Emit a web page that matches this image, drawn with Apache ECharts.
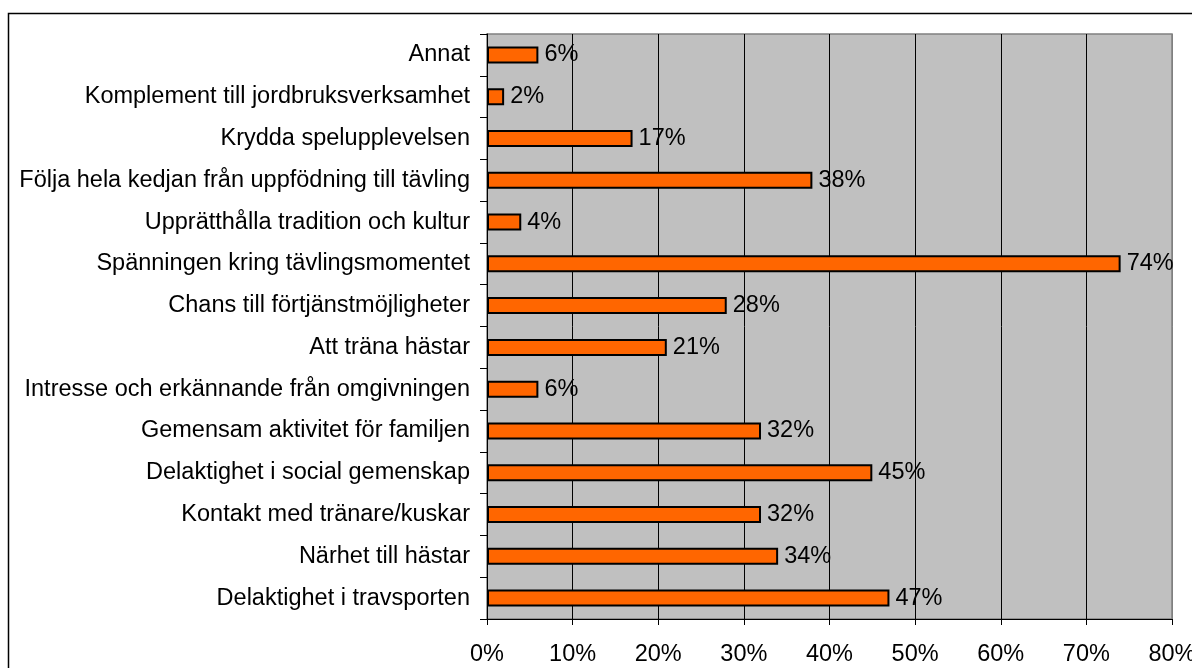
<!DOCTYPE html>
<html>
<head>
<meta charset="utf-8">
<script src="https://cdn.jsdelivr.net/npm/echarts@6/dist/echarts.min.js"></script>
<style>
  html, body { margin: 0; padding: 0; background: #fff; }
  #chart { width: 1192px; height: 668px; }
</style>
</head>
<body>
<div id="chart"></div>
<script>
// Motiv till engagemang i travsporten (andel svarande, %)
const categories = [
  'Annat',
  'Komplement till jordbruksverksamhet',
  'Krydda spelupplevelsen',
  'Följa hela kedjan från uppfödning till tävling',
  'Upprätthålla tradition och kultur',
  'Spänningen kring tävlingsmomentet',
  'Chans till förtjänstmöjligheter',
  'Att träna hästar',
  'Intresse och erkännande från omgivningen',
  'Gemensam aktivitet för familjen',
  'Delaktighet i social gemenskap',
  'Kontakt med tränare/kuskar',
  'Närhet till hästar',
  'Delaktighet i travsporten'
];
const values = [6, 2, 17, 38, 4, 74, 28, 21, 6, 32, 45, 32, 34, 47];
const xTicks = [0, 10, 20, 30, 40, 50, 60, 70, 80];

const font = 'Liberation Sans, Arial, sans-serif';
const fontSize = 23.5;
// black gridlines, the one on the right edge matches the grey plot frame
const gridColors = xTicks.map((t, i) => i === xTicks.length - 1 ? '#808080' : '#000');
const chart = echarts.init(document.getElementById('chart'));

chart.setOption({
  animation: false,
  backgroundColor: '#ffffff',
  graphic: [{
    type: 'rect',
    shape: { x: 8.5, y: 13.5, width: 1300, height: 800 },
    style: { fill: 'none', stroke: '#000', lineWidth: 1.5 },
    z: 100
  }],
  grid: {
    left: 487, right: 20, top: 34, bottom: 49,
    outerBoundsMode: 'none',
    containLabel: false,
    show: true, backgroundColor: '#C0C0C0',
    borderColor: '#808080', borderWidth: 1.5
  },
  xAxis: {
    type: 'value',
    min: xTicks[0], max: xTicks[xTicks.length - 1], interval: 10,
    axisLine: { show: true, lineStyle: { color: '#000', width: 1 } },
    axisTick: { show: true, length: 6, lineStyle: { color: '#000' } },
    axisLabel: {
      color: '#000', fontFamily: font, fontSize: fontSize, margin: 24,
      formatter: v => v + '%'
    },
    splitLine: { show: true, lineStyle: { color: gridColors, width: 1 } }
  },
  yAxis: {
    type: 'category',
    data: categories,
    inverse: true,
    axisLine: { show: true, lineStyle: { color: '#000', width: 1 } },
    axisTick: { show: true, length: 7, lineStyle: { color: '#000' } },
    axisLabel: { color: '#000', fontFamily: font, fontSize: fontSize, margin: 17 }
  },
  series: [{
    type: 'bar',
    data: values,
    barWidth: 17,
    itemStyle: { color: '#FF6600', borderColor: '#000', borderWidth: 2 },
    label: {
      show: true, position: 'right', distance: 6,
      color: '#000', fontFamily: font, fontSize: fontSize,
      formatter: p => p.value + '%'
    }
  }]
});
</script>
</body>
</html>
